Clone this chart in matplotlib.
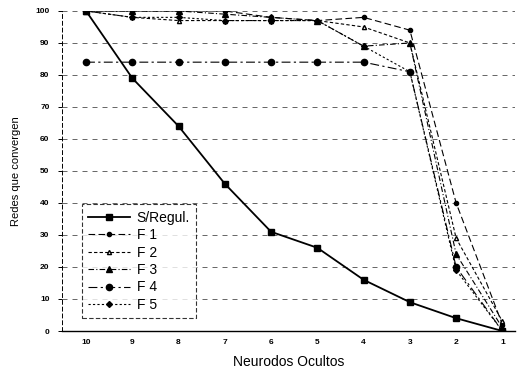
import matplotlib
matplotlib.use("Agg")
import matplotlib.pyplot as plt
import numpy as np

plt.rcParams['font.family'] = ['Liberation Sans', 'DejaVu Sans']

categories = ["10", "9", "8", "7", "6", "5", "4", "3", "2", "1"]
s_regul = [100, 79, 64, 46, 31, 26, 16, 9, 4, 0]
f1 = [100, 100, 100, 100, 98, 97, 98, 94, 40, 2]
f2 = [100, 98, 97, 97, 97, 97, 95, 90, 29, 3]
f3 = [100, 100, 100, 99, 98, 97, 89, 90, 24, 1]
f4 = [84, 84, 84, 84, 84, 84, 84, 81, 20, 0]
f5 = [100, 98, 98, 97, 97, 97, 89, 81, 19, 0]
yticks = [0, 10, 20, 30, 40, 50, 60, 70, 80, 90, 100]

fig = plt.figure(figsize=(5.23, 3.73), dpi=100)
ax = fig.add_axes([0.1185, 0.1126, 0.866, 0.858])
x = np.arange(len(categories))

ax.plot(x, s_regul, color='black', lw=1.3, ls='-', marker='s', ms=4, label='S/Regul.')
ax.plot(x, f1, color='black', lw=0.8, ls=(0, (6, 3)), marker='o', ms=3, label='F 1')
ax.plot(x, f2, color='black', lw=0.8, ls=(0, (3, 2)), marker='^', ms=3, mfc='white', label='F 2')
ax.plot(x, f3, color='black', lw=0.8, ls=(0, (5, 2, 1, 2)), marker='^', ms=4, label='F 3')
ax.plot(x, f4, color='black', lw=0.8, ls=(0, (8, 3, 2, 3)), marker='o', ms=4.5, label='F 4')
ax.plot(x, f5, color='black', lw=0.8, ls=(0, (2, 2)), marker='D', ms=3, label='F 5')

ax.set_xlim(-0.52, 9.27)
ax.set_ylim(0, 100)
ax.set_xticks(x)
ax.set_xticklabels(categories, fontsize=6, fontweight='bold')
ax.set_yticks(yticks)
ax.set_yticklabels([str(v) for v in yticks], fontsize=6, fontweight='bold')
ax.yaxis.grid(True, color='black', ls=(0, (6, 6)), lw=0.6, alpha=0.7)
ax.set_axisbelow(True)
for s in ['top', 'right']:
    ax.spines[s].set_visible(False)
ax.spines['left'].set_linestyle((0, (4, 3)))
ax.spines['left'].set_linewidth(0.7)
ax.spines['bottom'].set_linewidth(1.0)
ax.tick_params(axis='x', length=0, pad=6)
ax.tick_params(axis='y', length=3, width=0.7, pad=6)

ax.set_xlabel('Neurodos Ocultos', fontsize=10, labelpad=6)
ax.set_ylabel('Redes que convergen', fontsize=8, labelpad=10)

leg = ax.legend(loc='lower left', bbox_to_anchor=(0.044, 0.04), fontsize=10,
                frameon=True, fancybox=False, handlelength=3.0, labelspacing=0.25,
                borderpad=0.45, handletextpad=0.5, borderaxespad=0)
leg.get_frame().set_edgecolor('black')
leg.get_frame().set_linestyle((0, (4, 2)))
leg.get_frame().set_linewidth(0.8)

fig.savefig('out.png', dpi=100)
